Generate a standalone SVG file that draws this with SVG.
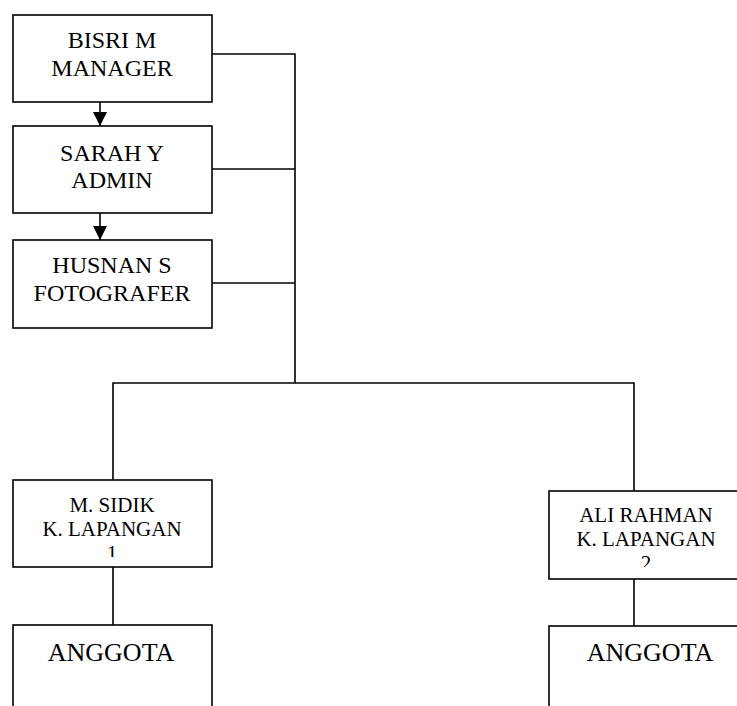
<svg xmlns="http://www.w3.org/2000/svg" width="737" height="706" viewBox="0 0 737 706">
<style>
.box{fill:#fff;stroke:#000;stroke-width:1.6}
.ln{fill:none;stroke:#000;stroke-width:1.6}
.tx{font-family:'Liberation Serif','Times New Roman',Times,'DejaVu Serif',serif;fill:#000;text-anchor:middle}
.t24{font-size:24px}
.t21{font-size:21px}
.t26{font-size:26px}
</style>
<defs>
<marker id="ah" markerWidth="14" markerHeight="14" refX="14" refY="7" orient="auto" markerUnits="userSpaceOnUse">
<path d="M0,0 L14,7 L0,14 Z" fill="#000"/>
</marker>
<clipPath id="c1"><rect x="13" y="480" width="199" height="77"/></clipPath>
<clipPath id="c2"><rect x="549" y="491" width="200" height="76"/></clipPath>
</defs>
<g id="connectors">
<line class="ln" x1="100" y1="102" x2="100" y2="126" marker-end="url(#ah)"/>
<line class="ln" x1="100" y1="213" x2="100" y2="240" marker-end="url(#ah)"/>
<polyline class="ln" points="212,54 295,54 295,383"/>
<line class="ln" x1="212" y1="169" x2="295" y2="169"/>
<line class="ln" x1="212" y1="283" x2="295" y2="283"/>
<polyline class="ln" points="113,480 113,383 634,383 634,491"/>
<line class="ln" x1="113" y1="567" x2="113" y2="625"/>
<line class="ln" x1="634" y1="579" x2="634" y2="626"/>
</g>
<g id="bisri" class="tx" font-family="'Liberation Serif', 'Times New Roman', serif">
<rect class="box" x="13" y="15" width="199" height="87"/>
<text class="t24" x="112" y="48">BISRI M</text>
<text class="t24" x="112" y="76">MANAGER</text>
</g>
<g id="sarah" class="tx" font-family="'Liberation Serif', 'Times New Roman', serif">
<rect class="box" x="13" y="126" width="199" height="87"/>
<text class="t24" x="112" y="161">SARAH Y</text>
<text class="t24" x="112" y="188">ADMIN</text>
</g>
<g id="husnan" class="tx" font-family="'Liberation Serif', 'Times New Roman', serif">
<rect class="box" x="13" y="240" width="199" height="88"/>
<text class="t24" x="112" y="273">HUSNAN S</text>
<text class="t24" x="112" y="301">FOTOGRAFER</text>
</g>
<g id="sidik" class="tx" font-family="'Liberation Serif', 'Times New Roman', serif">
<rect class="box" x="13" y="480" width="199" height="87"/>
<text class="t21" x="112" y="512">M. SIDIK</text>
<text class="t21" x="112" y="536">K. LAPANGAN</text>
<text class="t21" x="112" y="560" clip-path="url(#c1)">1</text>
</g>
<g id="ali" class="tx" font-family="'Liberation Serif', 'Times New Roman', serif">
<rect class="box" x="549" y="491" width="200" height="88"/>
<text class="t21" x="646" y="522">ALI RAHMAN</text>
<text class="t21" x="646" y="546">K. LAPANGAN</text>
<text class="t21" x="646" y="570" clip-path="url(#c2)">2</text>
</g>
<g id="anggota1" class="tx" font-family="'Liberation Serif', 'Times New Roman', serif">
<rect class="box" x="13" y="625" width="199" height="100"/>
<text class="t26" x="111" y="661">ANGGOTA</text>
</g>
<g id="anggota2" class="tx" font-family="'Liberation Serif', 'Times New Roman', serif">
<rect class="box" x="549" y="626" width="200" height="100"/>
<text class="t26" x="650" y="661">ANGGOTA</text>
</g>
</svg>
